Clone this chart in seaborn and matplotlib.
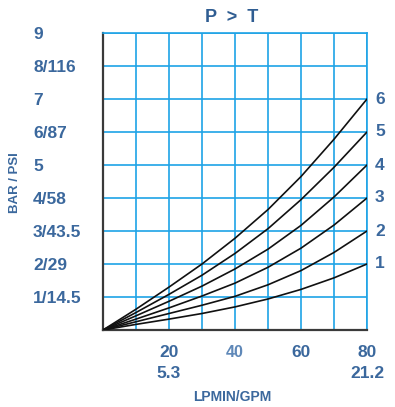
import matplotlib
matplotlib.use("Agg")
import matplotlib.pyplot as plt
import matplotlib.transforms as mtransforms
import seaborn as sns
import pandas as pd

# ---- data ----
flow_lpm = [0, 10, 20, 30, 40, 50, 60, 70, 80]
curve_1 = [0, 0.17, 0.33, 0.50, 0.70, 0.94, 1.23, 1.58, 2.0]
curve_2 = [0, 0.25, 0.50, 0.75, 1.02, 1.37, 1.80, 2.35, 3.0]
curve_3 = [0, 0.33, 0.67, 1.03, 1.42, 1.90, 2.48, 3.18, 4.0]
curve_4 = [0, 0.43, 0.87, 1.33, 1.85, 2.45, 3.17, 4.03, 5.0]
curve_5 = [0, 0.53, 1.08, 1.66, 2.32, 3.07, 3.95, 4.93, 6.0]
curve_6 = [0, 0.63, 1.30, 2.00, 2.78, 3.65, 4.65, 5.78, 7.0]
curve_names = ["1", "2", "3", "4", "5", "6"]

y_ticks = [1, 2, 3, 4, 5, 6, 7, 8, 9]
y_tick_labels = ["1/14.5", "2/29", "3/43.5", "4/58", "5", "6/87", "7", "8/116", "9"]
x_grid = [0, 10, 20, 30, 40, 50, 60, 70, 80]
x_tick_labels = ["", "", "20\n5.3", "", "40", "", "60", "", "80\n21.2"]

title = "P  >  T"
x_title = "LPMIN/GPM"
y_title = "BAR / PSI"

curves = [curve_1, curve_2, curve_3, curve_4, curve_5, curve_6]
rows = []
for name, vals in zip(curve_names, curves):
    for x, y in zip(flow_lpm, vals):
        rows.append({"flow": x, "pressure": y, "curve": name})
df = pd.DataFrame(rows)

# ---- style ----
sns.set_theme(style="white")
plt.rcParams["font.family"] = ["Liberation Sans", "DejaVu Sans"]
plt.rcParams["font.weight"] = "bold"

label_col = "#3b689d"
grid_col = "#1ea3e6"

fig = plt.figure(figsize=(3.95, 4.07), dpi=100)
ax = fig.add_axes([103 / 395, 1 - 330 / 407, 264 / 395, 297 / 407])

sns.lineplot(data=df, x="flow", y="pressure", hue="curve",
             palette=["#111111"] * len(curve_names), linewidth=1.2,
             legend=False, ax=ax, zorder=3)

ax.set_xlim(0, 80)
ax.set_ylim(0, 9)
ax.set_xticks(x_grid)
ax.set_xticklabels(x_tick_labels)
ax.set_yticks(y_ticks)
ax.set_yticklabels(y_tick_labels)
ax.grid(True, color=grid_col, linewidth=1.2)
ax.set_axisbelow(True)

ax.tick_params(axis="both", length=0)
ax.tick_params(axis="y", pad=70 * 0.72, labelsize=12.5, labelcolor=label_col)
ax.tick_params(axis="x", pad=11, labelsize=12.5, labelcolor=label_col)
for lab in ax.get_yticklabels():
    lab.set_ha("left")
    lab.set_fontweight("bold")
for i, lab in enumerate(ax.get_xticklabels()):
    lab.set_fontweight("bold")
    lab.set_linespacing(1.45)
    if x_tick_labels[i] == "40":
        lab.set_fontsize(11.5)
        lab.set_color("#5f88b8")

for side in ["top", "right"]:
    ax.spines[side].set_color(grid_col)
    ax.spines[side].set_linewidth(1.2)
for side in ["left", "bottom"]:
    ax.spines[side].set_color("#3a3a3a")
    ax.spines[side].set_linewidth(1.6)

ax.set_xlabel("")
ax.set_ylabel("")

# curve labels at right end
trans = mtransforms.blended_transform_factory(ax.transAxes, ax.transData)
for name, vals in zip(curve_names, curves):
    ax.text(1.0 + 8 / 264, vals[-1], name, transform=trans, ha="left",
            va="center", fontsize=12.5, fontweight="bold", color=label_col)

fig.text(232 / 395, 1 - 17 / 407, title, ha="center", va="center",
         fontsize=13, fontweight="bold", color="#2f5d92")
fig.text(232 / 395, 1 - 397 / 407, x_title, ha="center", va="center",
         fontsize=10, fontweight="bold", color=label_col)
fig.text(15 / 395, 1 - 183 / 407, y_title, ha="center", va="center",
         rotation=90, fontsize=9.5, fontweight="bold", color=label_col)

fig.savefig("out.png", dpi=100)
